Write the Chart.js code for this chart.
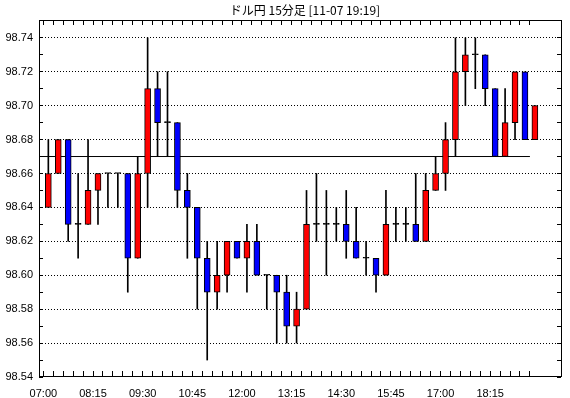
<!DOCTYPE html>
<html>
<head>
<meta charset="utf-8">
<script src="https://cdn.jsdelivr.net/npm/chart.js@4/dist/chart.umd.min.js"></script>
<style>
  html, body { margin: 0; padding: 0; background: #fff; }
</style>
</head>
<body>
<canvas id="chart" width="570" height="398"></canvas>
<script>
const TITLE = 'ドル円 15分足 [11-07 19:19]';

const TIMES = [
  '07:00', '07:15', '07:30', '07:45', '08:00', '08:15', '08:30', '08:45',
  '09:00', '09:15', '09:30', '09:45', '10:00', '10:15', '10:30', '10:45',
  '11:00', '11:15', '11:30', '11:45', '12:00', '12:15', '12:30', '12:45',
  '13:00', '13:15', '13:30', '13:45', '14:00', '14:15', '14:30', '14:45',
  '15:00', '15:15', '15:30', '15:45', '16:00', '16:15', '16:30', '16:45',
  '17:00', '17:15', '17:30', '17:45', '18:00', '18:15', '18:30', '18:45',
  '19:00', '19:15'
];

const OPEN = [
  98.64, 98.66, 98.68, 98.63, 98.63, 98.65, 98.66, 98.66, 98.66, 98.61,
  98.66, 98.71, 98.69, 98.69, 98.65, 98.64, 98.61, 98.59, 98.60, 98.62,
  98.61, 98.62, 98.60, 98.60, 98.59, 98.57, 98.58, 98.63, 98.63, 98.63,
  98.63, 98.62, 98.61, 98.61, 98.60, 98.63, 98.63, 98.63, 98.62, 98.65,
  98.66, 98.68, 98.72, 98.73, 98.73, 98.71, 98.67, 98.69, 98.72, 98.68
];
const HIGH = [
  98.68, 98.68, 98.68, 98.66, 98.68, 98.66, 98.66, 98.66, 98.66, 98.67,
  98.74, 98.72, 98.72, 98.69, 98.66, 98.64, 98.62, 98.62, 98.62, 98.62,
  98.63, 98.63, 98.60, 98.60, 98.60, 98.59, 98.65, 98.66, 98.65, 98.64,
  98.65, 98.64, 98.62, 98.61, 98.65, 98.64, 98.64, 98.66, 98.66, 98.67,
  98.69, 98.74, 98.74, 98.74, 98.73, 98.71, 98.71, 98.72, 98.72, 98.70
];
const LOW = [
  98.64, 98.66, 98.62, 98.61, 98.63, 98.63, 98.64, 98.64, 98.59, 98.61,
  98.64, 98.67, 98.67, 98.64, 98.61, 98.58, 98.55, 98.58, 98.59, 98.61,
  98.59, 98.60, 98.58, 98.56, 98.56, 98.56, 98.58, 98.62, 98.60, 98.62,
  98.61, 98.61, 98.60, 98.59, 98.60, 98.62, 98.62, 98.62, 98.62, 98.65,
  98.65, 98.67, 98.70, 98.71, 98.70, 98.67, 98.67, 98.68, 98.68, 98.68
];
const CLOSE = [
  98.66, 98.68, 98.63, 98.63, 98.65, 98.66, 98.66, 98.66, 98.61, 98.66,
  98.71, 98.69, 98.69, 98.65, 98.64, 98.61, 98.59, 98.60, 98.62, 98.61,
  98.62, 98.60, 98.60, 98.59, 98.57, 98.58, 98.63, 98.63, 98.63, 98.63,
  98.62, 98.61, 98.61, 98.60, 98.63, 98.63, 98.63, 98.62, 98.65, 98.66,
  98.68, 98.72, 98.73, 98.73, 98.71, 98.67, 98.69, 98.72, 98.68, 98.70
];

// reference level drawn across the chart
const REF_LEVEL = 98.67;

const X_LABELS = ['07:00', '08:15', '09:30', '10:45', '12:00', '13:15', '14:30', '15:45', '17:00', '18:15'];
const Y_TICKS = [98.54, 98.56, 98.58, 98.60, 98.62, 98.64, 98.66, 98.68, 98.70, 98.72, 98.74];

const X_MIN = -0.94;
const X_MAX = 51.73;
const Y_MIN = 98.54;
const Y_MAX = 98.7505;

const UP_COLOR = '#ff0000';
const DOWN_COLOR = '#0000ff';
const DOJI_COLOR = '#000000';
const LABEL_FONT = { family: '"Liberation Sans Narrow", "Liberation Sans", sans-serif', size: 11 };

// frame, inward tick marks and title
const frameTicks = {
  id: 'frameTicks',
  afterDraw(chart) {
    const { ctx, chartArea: a, scales: { x, y } } = chart;
    const px = v => Math.floor(v) + 0.5;
    ctx.save();
    ctx.strokeStyle = '#000';
    ctx.lineWidth = 1;
    ctx.beginPath();
    const yVals = [];
    Y_TICKS.forEach((v, k) => {
      yVals.push(v);
      if (k < Y_TICKS.length - 1) yVals.push((v + Y_TICKS[k + 1]) / 2);
    });
    yVals.forEach(v => {
      const yy = px(y.getPixelForValue(v));
      ctx.moveTo(a.left, yy); ctx.lineTo(a.left + 4, yy);
      ctx.moveTo(a.right - 1, yy); ctx.lineTo(a.right - 5, yy);
    });
    TIMES.forEach((t, i) => {
      const xx = px(x.getPixelForValue(i - 0.5));
      ctx.moveTo(xx, a.top); ctx.lineTo(xx, a.top + 5);
      ctx.moveTo(xx, a.bottom - 1); ctx.lineTo(xx, a.bottom - 6);
    });
    ctx.stroke();
    ctx.strokeRect(px(a.left), px(a.top), a.right - a.left - 1, a.bottom - a.top - 1);

    ctx.fillStyle = '#000';
    ctx.font = '12px "Noto Sans CJK JP", sans-serif';
    ctx.textAlign = 'center';
    ctx.textBaseline = 'middle';
    ctx.fillText(TITLE, 305, 10);
    ctx.restore();
  }
};

const bodies = TIMES.map((t, i) => ({ x: i, y: [OPEN[i], CLOSE[i]] }));
const wicks = TIMES.map((t, i) => ({ x: i, y: [LOW[i], HIGH[i]] }));
const bodyColors = TIMES.map((t, i) => {
  if (CLOSE[i] > OPEN[i]) return UP_COLOR;
  if (CLOSE[i] < OPEN[i]) return DOWN_COLOR;
  return DOJI_COLOR;
});

new Chart(document.getElementById('chart'), {
  type: 'bar',
  data: {
    datasets: [
      {
        label: 'body',
        data: bodies,
        backgroundColor: bodyColors,
        borderColor: '#000',
        borderWidth: 1,
        borderSkipped: false,
        barThickness: 6,
        minBarLength: 1,
        grouped: false,
        order: 0
      },
      {
        label: 'wick',
        data: wicks,
        backgroundColor: '#000',
        borderWidth: 0,
        barThickness: 1,
        grouped: false,
        order: 1
      },
      {
        type: 'line',
        label: 'level',
        data: [{ x: X_MIN, y: REF_LEVEL }, { x: TIMES.length - 1.5, y: REF_LEVEL }],
        borderColor: '#000',
        borderWidth: 1,
        pointRadius: 0,
        order: 2
      }
    ]
  },
  options: {
    responsive: false,
    animation: false,
    devicePixelRatio: 1,
    layout: { padding: { top: 20, right: 8, left: 0, bottom: 0 } },
    plugins: {
      legend: { display: false },
      tooltip: { enabled: false },
      title: { display: false }
    },
    scales: {
      x: {
        type: 'linear',
        min: X_MIN,
        max: X_MAX,
        offset: false,
        grid: { display: false },
        border: { display: false },
        afterBuildTicks: scale => {
          scale.ticks = X_LABELS.map(l => ({ value: TIMES.indexOf(l) - 0.5 }));
        },
        afterFit: scale => { scale.height = 21; },
        ticks: {
          autoSkip: false,
          maxRotation: 0,
          padding: 2,
          color: '#000',
          font: LABEL_FONT,
          callback: (v, i) => X_LABELS[i]
        }
      },
      y: {
        type: 'linear',
        min: Y_MIN,
        max: Y_MAX,
        afterBuildTicks: scale => {
          scale.ticks = Y_TICKS.map(v => ({ value: v }));
        },
        afterFit: scale => { scale.width = 39; },
        grid: {
          drawTicks: false,
          color: ctx => (ctx.tick && ctx.tick.value > Y_MIN + 0.001 ? '#000' : 'rgba(0,0,0,0)'),
          lineWidth: 1
        },
        border: { display: false, dash: [1, 2] },
        ticks: {
          padding: 6,
          color: '#000',
          font: LABEL_FONT,
          callback: v => v.toFixed(2)
        }
      }
    }
  },
  plugins: [frameTicks]
});
</script>
</body>
</html>
